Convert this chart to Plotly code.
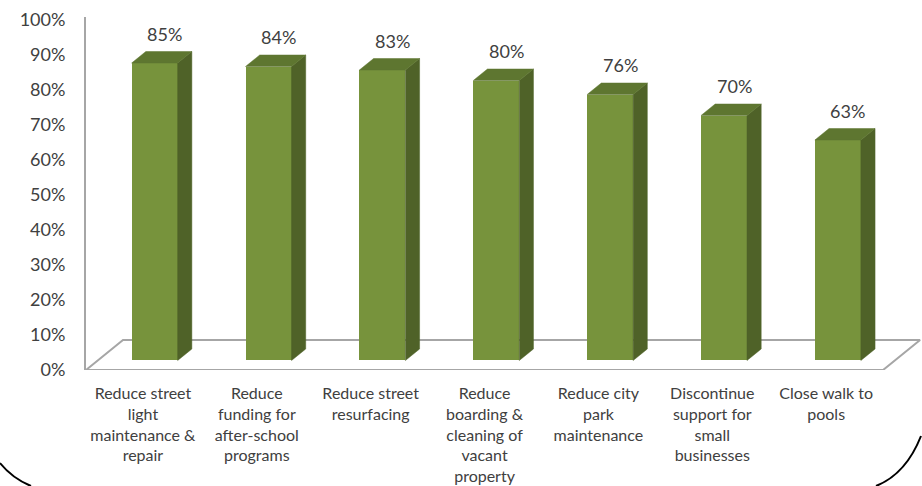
import plotly.graph_objects as go

# ---------------- data ----------------
categories = [
    "Reduce street<br>light<br>maintenance &amp;<br>repair",
    "Reduce<br>funding for<br>after-school<br>programs",
    "Reduce street<br>resurfacing",
    "Reduce<br>boarding &amp;<br>cleaning of<br>vacant<br>property",
    "Reduce city<br>park<br>maintenance",
    "Discontinue<br>support for<br>small<br>businesses",
    "Close walk to<br>pools",
]
values = [85, 84, 83, 80, 76, 70, 63]
y_ticks = [0, 10, 20, 30, 40, 50, 60, 70, 80, 90, 100]

# ---------------- style / geometry ----------------
W, H = 922, 486
ML, MR, MT, MB = 86, 1, 17, 116
FRONT_COLOR = "#77933C"
SIDE_COLOR = "#4F6228"
TOP_COLOR = "#5E7630"
GRID_GRAY = "#A6A6A6"
TEXT_COLOR = "#404040"
FONT = "Lato"

BAR_W = 0.404
FLOOR_DX = 0.325      # floor depth in category units
FLOOR_DY = 8.571      # floor depth in % units
DEPTH_FRONT = 0.317   # bars' front plane as fraction of floor depth
DEPTH_BACK = 0.70     # bars' back plane

X_RANGE = [-0.5, 6.833]
Y_RANGE = [0, 100.86]

off_x = DEPTH_FRONT * FLOOR_DX
off_y = DEPTH_FRONT * FLOOR_DY
sdx = (DEPTH_BACK - DEPTH_FRONT) * FLOOR_DX
sdy = (DEPTH_BACK - DEPTH_FRONT) * FLOOR_DY

n = len(values)
idx = list(range(n))

fig = go.Figure()

# floor (front plane axes)
xl = X_RANGE[0]
xr = n - 0.5
fig.add_trace(go.Scatter(
    x=[xl, xr, xr + FLOOR_DX, xl + FLOOR_DX, xl],
    y=[0, 0, FLOOR_DY, FLOOR_DY, 0],
    mode="lines", line=dict(color=GRID_GRAY, width=2),
    hoverinfo="skip", showlegend=False, cliponaxis=False,
    xaxis="x", yaxis="y",
))

# side and top faces
sx, sy = [], []
tx, ty = [], []
for i, v in zip(idx, values):
    r = i + BAR_W / 2
    l = i - BAR_W / 2
    sx += [r, r + sdx, r + sdx, r, r, None]
    sy += [0, sdy, v + sdy, v, 0, None]
    tx += [l, r, r + sdx, l + sdx, l, None]
    ty += [v, v, v + sdy, v + sdy, v, None]

fig.add_trace(go.Scatter(
    x=sx, y=sy, mode="lines", fill="toself", fillcolor=SIDE_COLOR,
    line=dict(width=0.5, color=SIDE_COLOR), hoverinfo="skip",
    showlegend=False, cliponaxis=False, xaxis="x2", yaxis="y2",
))
fig.add_trace(go.Scatter(
    x=tx, y=ty, mode="lines", fill="toself", fillcolor=TOP_COLOR,
    line=dict(width=0.5, color=TOP_COLOR), hoverinfo="skip",
    showlegend=False, cliponaxis=False, xaxis="x2", yaxis="y2",
))

# front faces
fig.add_trace(go.Bar(
    x=idx, y=values, width=BAR_W,
    marker=dict(color=FRONT_COLOR, line=dict(width=0)),
    showlegend=False, xaxis="x2", yaxis="y2", cliponaxis=False,
))

# data labels
for i, v in zip(idx, values):
    fig.add_annotation(
        x=i + sdx / 2, y=v + sdy, xref="x2", yref="y2",
        text=f"{v}%", showarrow=False, yanchor="middle", xanchor="center",
        yshift=18, xshift=3,
        font=dict(family=FONT, size=18, color=TEXT_COLOR),
    )

# rounded chart-area border corners (pixel -> paper)
pw = W - ML - MR
ph = H - MT - MB


def px2paper(px, py):
    return (px - ML) / pw, (H - MB - py) / ph


def qpath(p0, c, p1):
    a = px2paper(*p0)
    b = px2paper(*c)
    d = px2paper(*p1)
    return f"M {a[0]},{a[1]} Q {b[0]},{b[1]} {d[0]},{d[1]}"


for p0, c, p1 in [((0, 463), (12, 478), (31, 486)),
                  ((921, 436), (906, 474), (876, 486))]:
    fig.add_shape(type="path", path=qpath(p0, c, p1), xref="paper", yref="paper",
                  line=dict(color="black", width=2), layer="above")

fig.update_layout(
    width=W, height=H, autosize=False,
    margin=dict(l=ML, r=MR, t=MT, b=MB, pad=0),
    paper_bgcolor="white", plot_bgcolor="white",
    bargap=0,
    xaxis=dict(
        range=X_RANGE, tickmode="array", tickvals=idx, ticktext=categories,
        showgrid=False, zeroline=False, showline=False, ticks="",
        ticklabelstandoff=12,
        tickfont=dict(family=FONT, size=16, color=TEXT_COLOR),
        fixedrange=True,
    ),
    yaxis=dict(
        range=Y_RANGE, tickmode="array", tickvals=y_ticks,
        ticktext=[f"{t}%" for t in y_ticks],
        showgrid=False, zeroline=False, showline=True,
        linecolor=GRID_GRAY, linewidth=2, ticks="",
        ticklabelstandoff=15,
        tickfont=dict(family=FONT, size=18, color=TEXT_COLOR),
        fixedrange=True,
    ),
    xaxis2=dict(range=[X_RANGE[0] - off_x, X_RANGE[1] - off_x], overlaying="x",
                anchor="y2", visible=False, fixedrange=True),
    yaxis2=dict(range=[Y_RANGE[0] - off_y, Y_RANGE[1] - off_y], overlaying="y",
                anchor="x2", visible=False, fixedrange=True),
)

fig.write_html(
    "out.html",
    config={"displayModeBar": False, "staticPlot": True},
    post_script="document.body.style.margin='0px';document.body.style.overflow='hidden';",
)
